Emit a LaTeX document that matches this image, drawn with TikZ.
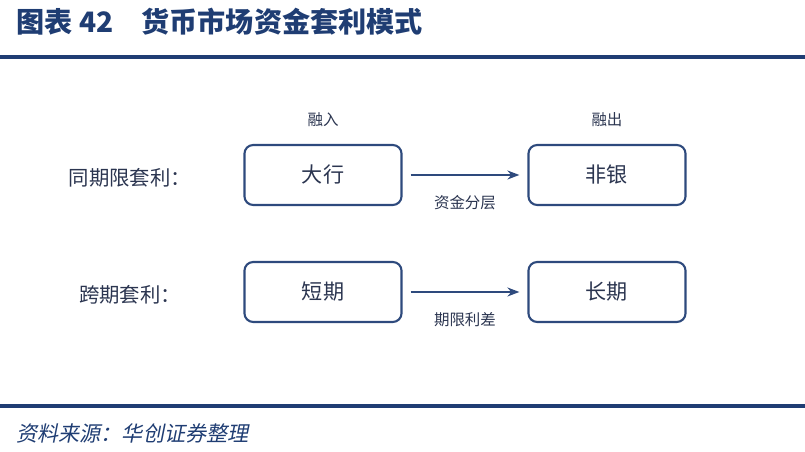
\documentclass[tikz,border=0pt]{standalone}
\usepackage{fontspec}
\setmainfont{Noto Sans CJK SC}
\newfontfamily\slantfont[FakeSlant=0.2]{Noto Sans CJK SC}
\usetikzlibrary{arrows.meta, positioning}
\definecolor{navy}{HTML}{1F3D73}
\definecolor{boxline}{HTML}{2E4A7D}
\definecolor{txt}{HTML}{2B3550}

\begin{document}
\begin{tikzpicture}[
    x=0.01cm, y=-0.01cm,
    party/.style={rectangle, draw=boxline, line width=0.6pt, rounded corners=2.5pt, minimum width=1.57cm, minimum height=0.6cm, font=\fontsize{6}{7}\selectfont, text=txt},
    note/.style={font=\fontsize{4.4}{5}\selectfont, text=txt},
    side/.style={font=\fontsize{5.8}{7}\selectfont, text=txt},
    arrow/.style={-{Stealth[length=1.2mm]}, line width=0.5pt, draw=boxline},
]
\useasboundingbox (0,0) rectangle (805,452);

% title and rules
\node[anchor=west, text=navy, font=\fontsize{8}{9}\selectfont\bfseries] (title) at (4,22) {图表 42\quad 货币市场资金套利模式};
\draw[navy, line width=1.2pt] (0,57) -- (805,57);
\draw[navy, line width=1.2pt] (0,406) -- (805,406);
\node[anchor=west, text=navy, font=\fontsize{6}{7}\selectfont\slantfont] (source) at (4,433) {资料来源：华创证券整理};

% same-tenor arbitrage
\node[party] (big) at (323,175) {大行};
\node[party] (nonbank) at (607,175) {非银};
\node[note, above=0.05cm of big] (in) {融入};
\node[note, above=0.05cm of nonbank] (out) {融出};
\node[side] (same) at (130,178) {同期限套利：};
\draw[arrow] ([xshift=0.08cm]big.east) -- node[note, below=0.08cm] {资金分层} ([xshift=-0.08cm]nonbank.west);

% cross-tenor arbitrage
\node[party] (short) at (323,292) {短期};
\node[party] (long) at (607,292) {长期};
\node[side] (cross) at (130,295) {跨期套利：};
\draw[arrow] ([xshift=0.08cm]short.east) -- node[note, below=0.08cm] {期限利差} ([xshift=-0.08cm]long.west);

\end{tikzpicture}
\end{document}
